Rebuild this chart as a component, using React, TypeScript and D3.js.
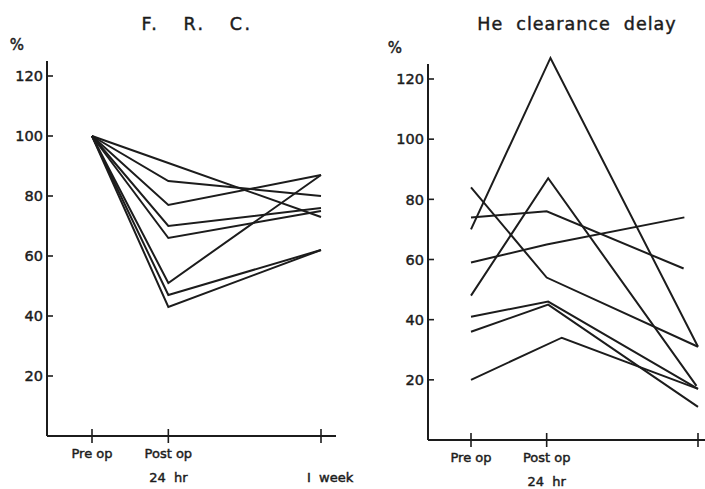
import { useEffect, useRef } from "react";
import * as d3 from "d3";

// time positions on the x axis (pre op = 0, post op 24 hr = 1, 1 week = 3)
const TIME_X = [0, 1, 3];

// F.R.C. (% of pre-op), one row per patient: pre op, post op 24 hr, 1 week
const FRC_VALUES = [
  [100, 91, 73],
  [100, 85, 80],
  [100, 77, 87],
  [100, 70, 76],
  [100, 66, 75],
  [100, 51, 87],
  [100, 47, 62],
  [100, 43, 62],
];

// He clearance delay (%), one row per patient
const HE_VALUES = [
  [70, 127, 31],
  [48, 87, 18],
  [84, 54, 31],
  [74, 76, 57],
  [59, 65, 74],
  [41, 46, 17],
  [36, 45, 11],
  [20, 34, 17],
];
// the hand-drawn points do not sit exactly on the ticks
const HE_TIMES = [
  [0, 1.05, 3],
  [0, 1.02, 2.98],
  [0, 1, 3],
  [0, 1, 2.81],
  [0, 1, 2.82],
  [0, 1.02, 3],
  [0, 1.02, 3],
  [0, 1.2, 3],
];

const Y_TICKS = [20, 40, 60, 80, 100, 120];

const FONT = "'DejaVu Sans', sans-serif";
const INK = "#1c1c1c";

type Panel = {
  title: string;
  titleX: number;
  titleSpacing: number;
  values: number[][];
  times: number[][];
  xRange: [number, number];
  yRange: [number, number];
  axisLeft: number;
  axisRight: number;
  pctX: number;
  pctY: number;
  labels: { text: string; t: number; dy: number }[];
};

const PANELS: Panel[] = [
  {
    title: "F.   R.   C.",
    titleX: 197,
    titleSpacing: 2.5,
    values: FRC_VALUES,
    times: FRC_VALUES.map(() => TIME_X),
    xRange: [92, 321],
    yRange: [436, 76],
    axisLeft: 47,
    axisRight: 336,
    pctX: 17,
    pctY: 50,
    labels: [
      { text: "Pre op", t: 0, dy: 22 },
      { text: "Post op", t: 1, dy: 22 },
      { text: "24  hr", t: 1, dy: 46 },
      { text: "I  week", t: 3.12, dy: 46 },
    ],
  },
  {
    title: "He  clearance  delay",
    titleX: 577,
    titleSpacing: 1,
    values: HE_VALUES,
    times: HE_TIMES,
    xRange: [471, 698],
    yRange: [440, 79],
    axisLeft: 428,
    axisRight: 705,
    pctX: 395,
    pctY: 53,
    labels: [
      { text: "Pre op", t: 0, dy: 22 },
      { text: "Post op", t: 1, dy: 22 },
      { text: "24  hr", t: 1, dy: 46 },
    ],
  },
];

export default function App() {
  const svgRef = useRef<SVGSVGElement | null>(null);

  useEffect(() => {
    if (!svgRef.current) return;
    const W = 705, H = 489;
    const svg = d3.select(svgRef.current);
    svg.selectAll("*").remove();
    svg.attr("width", W).attr("height", H).attr("viewBox", `0 0 ${W} ${H}`);

    svg.append("rect").attr("width", W).attr("height", H).attr("fill", "#fff");

    const label = (g: d3.Selection<SVGGElement, unknown, null, undefined>, size: number) =>
      g.append("text")
        .attr("font-family", FONT).attr("font-size", size)
        .attr("fill", INK).attr("stroke", INK).attr("stroke-width", 0.45)
        .style("white-space", "pre");

    for (const p of PANELS) {
      const x = d3.scaleLinear().domain([0, 3]).range(p.xRange);
      const y = d3.scaleLinear().domain([0, 120]).range(p.yRange);
      const g = svg.append("g");

      // title
      label(g, 17.5)
        .attr("x", p.titleX).attr("y", 30)
        .attr("text-anchor", "middle")
        .attr("letter-spacing", p.titleSpacing)
        .text(p.title);

      label(g, 15)
        .attr("x", p.pctX).attr("y", p.pctY)
        .attr("text-anchor", "middle")
        .text("%");

      // axes
      const y0 = y(0);
      g.append("line")
        .attr("x1", p.axisLeft).attr("x2", p.axisLeft)
        .attr("y1", y(125)).attr("y2", y0)
        .attr("stroke", INK).attr("stroke-width", 2);
      g.append("line")
        .attr("x1", p.axisLeft).attr("x2", p.axisRight)
        .attr("y1", y0).attr("y2", y0)
        .attr("stroke", INK).attr("stroke-width", 2);

      for (const v of Y_TICKS) {
        g.append("line")
          .attr("x1", p.axisLeft).attr("x2", p.axisLeft + 6)
          .attr("y1", y(v)).attr("y2", y(v))
          .attr("stroke", INK).attr("stroke-width", 1.6);
        label(g, 14.5)
          .attr("x", p.axisLeft - 4).attr("y", y(v))
          .attr("dy", "0.36em")
          .attr("text-anchor", "end")
          .text(String(v));
      }

      for (const t of TIME_X) {
        g.append("line")
          .attr("x1", x(t)).attr("x2", x(t))
          .attr("y1", y0 - 7).attr("y2", y0 + 7)
          .attr("stroke", INK).attr("stroke-width", 1.6);
      }

      for (const l of p.labels) {
        label(g, 13)
          .attr("x", x(l.t)).attr("y", y0 + l.dy)
          .attr("text-anchor", "middle")
          .text(l.text);
      }

      // patient lines
      const line = d3.line<[number, number]>()
        .x((d) => x(d[0]))
        .y((d) => y(d[1]));
      p.values.forEach((row, i) => {
        const pts = row.map((v, j) => [p.times[i][j], v] as [number, number]);
        g.append("path")
          .datum(pts)
          .attr("d", line)
          .attr("fill", "none")
          .attr("stroke", INK)
          .attr("stroke-width", 2)
          .attr("stroke-linejoin", "miter");
      });
    }
  }, []);

  return (
    <svg
      ref={svgRef}
      style={{ position: "absolute", left: 0, top: 0, display: "block" }}
    />
  );
}
